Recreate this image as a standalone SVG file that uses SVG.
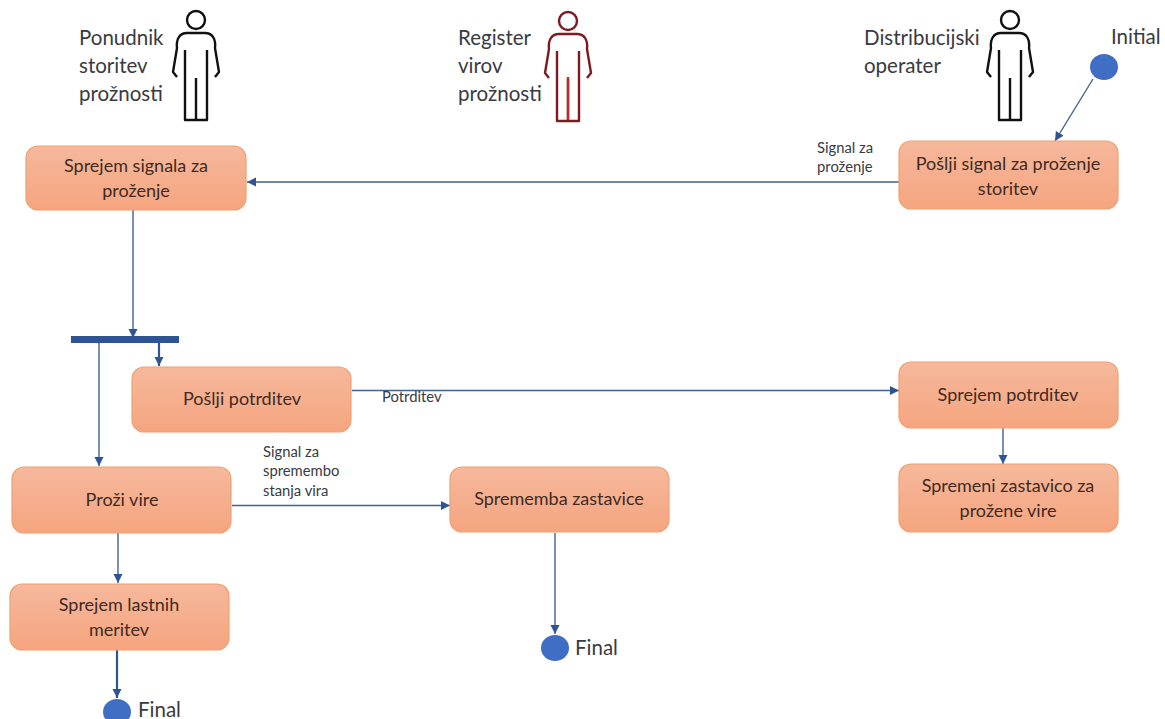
<svg xmlns="http://www.w3.org/2000/svg" width="1165" height="719" viewBox="0 0 1165 719">
<style>
text{font-family:"Lato","Noto Sans","Liberation Sans",sans-serif;fill:#3a3a40}
.big{font-size:20.500px}
.nt{font-size:18px;fill:#3f2a22;text-anchor:middle}
.sm{font-size:14.800px}
.box{fill:url(#g);stroke:#f0a070;stroke-width:1.2}
.c{fill:none;stroke:#3f6194;stroke-width:1.4}
.cd{fill:none;stroke:#2f5496;stroke-width:2.2}
.dot{fill:#3f6ec4}
.p{fill:none;stroke-width:2.400;stroke-linejoin:round}
</style>
<defs>
<linearGradient id="g" x1="0" y1="0" x2="0" y2="1"><stop offset="0" stop-color="#f6b89c"/><stop offset="1" stop-color="#f5a57f"/></linearGradient>
<marker id="a" markerUnits="userSpaceOnUse" markerWidth="10" markerHeight="10" refX="9" refY="4.5" orient="auto"><path d="M0 0L9 4.5L0 9Z" fill="#2f5496"/></marker>
<g id="person" class="p">
<circle cx="0" cy="0" r="9"/>
<path d="M-19 57L-23 52L-21 40L-19 28C-20 20-17 13-9 13H9C17 13 20 20 19 28L21 40L23 52L19 57"/>
<path d="M-11 30V100H11V30M0 58V100"/>
</g>
</defs>

<g id="connectors">
<path class="c" d="M899 182H247" marker-end="url(#a)"/>
<path class="c" d="M1093 79L1055 141" marker-end="url(#a)"/>
<path class="c" d="M133 210V338" marker-end="url(#a)"/>
<path class="cd" d="M159 342V366" marker-end="url(#a)"/>
<path class="c" d="M99 342V466" marker-end="url(#a)"/>
<path class="c" d="M352 390.500H899" marker-end="url(#a)"/>
<path class="c" d="M1003 428V464" marker-end="url(#a)"/>
<path class="c" d="M232 505.500H450" marker-end="url(#a)"/>
<path class="c" d="M118 533V583" marker-end="url(#a)"/>
<path class="cd" d="M117 650V698" marker-end="url(#a)"/>
<path class="c" d="M555 533V634" marker-end="url(#a)"/>
</g>

<g id="actor-ponudnik">
<use href="#person" x="196" y="20" stroke="#111"/>
<text class="big" x="79" y="45">Ponudnik</text><text class="big" x="79" y="73">storitev</text><text class="big" x="79" y="101">prožnosti</text>
</g>
<g id="actor-register">
<use href="#person" x="568" y="21" stroke="#7d1a1f"/>
<path d="M568 77V120" stroke="#c0282c" stroke-width="2.400" fill="none"/>
<text class="big" x="458" y="45">Register</text><text class="big" x="458" y="73">virov</text><text class="big" x="458" y="101">prožnosti</text>
</g>
<g id="actor-distribucijski">
<use href="#person" x="1010" y="20" stroke="#111"/>
<text class="big" x="864" y="45">Distribucijski</text><text class="big" x="864" y="73">operater</text>
</g>

<g id="initial">
<ellipse class="dot" cx="1104" cy="67" rx="14" ry="13"/>
<text class="big" x="1111" y="44">Initial</text>
</g>
<g id="fork"><rect x="71" y="336" width="108" height="7" fill="#2f5496"/></g>

<g id="n1"><rect class="box" x="26" y="146" width="220" height="64" rx="12"/><text class="nt" x="136" y="172">Sprejem signala za</text><text class="nt" x="136" y="197">proženje</text></g>
<g id="n2"><rect class="box" x="899" y="141" width="219" height="68" rx="12"/><text class="nt" x="1008" y="170">Pošlji signal za proženje</text><text class="nt" x="1008" y="195">storitev</text></g>
<g id="n3"><rect class="box" x="132" y="367" width="219" height="65" rx="12"/><text class="nt" x="242" y="405">Pošlji potrditev</text></g>
<g id="n4"><rect class="box" x="12" y="467" width="219" height="66" rx="12"/><text class="nt" x="122" y="506">Proži vire</text></g>
<g id="n5"><rect class="box" x="450" y="467" width="219" height="65" rx="12"/><text class="nt" x="559" y="505">Sprememba zastavice</text></g>
<g id="n6"><rect class="box" x="899" y="362" width="219" height="66" rx="12"/><text class="nt" x="1008" y="401">Sprejem potrditev</text></g>
<g id="n7"><rect class="box" x="899" y="464" width="219" height="68" rx="12"/><text class="nt" x="1008" y="492">Spremeni zastavico za</text><text class="nt" x="1008" y="517">prožene vire</text></g>
<g id="n8"><rect class="box" x="10" y="584" width="219" height="66" rx="12"/><text class="nt" x="119" y="611">Sprejem lastnih</text><text class="nt" x="119" y="636">meritev</text></g>

<g id="final1"><ellipse class="dot" cx="117" cy="712" rx="14" ry="13"/><text class="big" x="138" y="717">Final</text></g>
<g id="final2"><ellipse class="dot" cx="555" cy="648" rx="14" ry="13"/><text class="big" x="575" y="655">Final</text></g>

<g id="labels">
<text class="sm" x="817" y="153">Signal za</text><text class="sm" x="817" y="172">proženje</text>
<text class="sm" x="382" y="402">Potrditev</text>
<text class="sm" x="263" y="457">Signal za</text><text class="sm" x="263" y="476">spremembo</text><text class="sm" x="263" y="496">stanja vira</text>
</g>
</svg>
